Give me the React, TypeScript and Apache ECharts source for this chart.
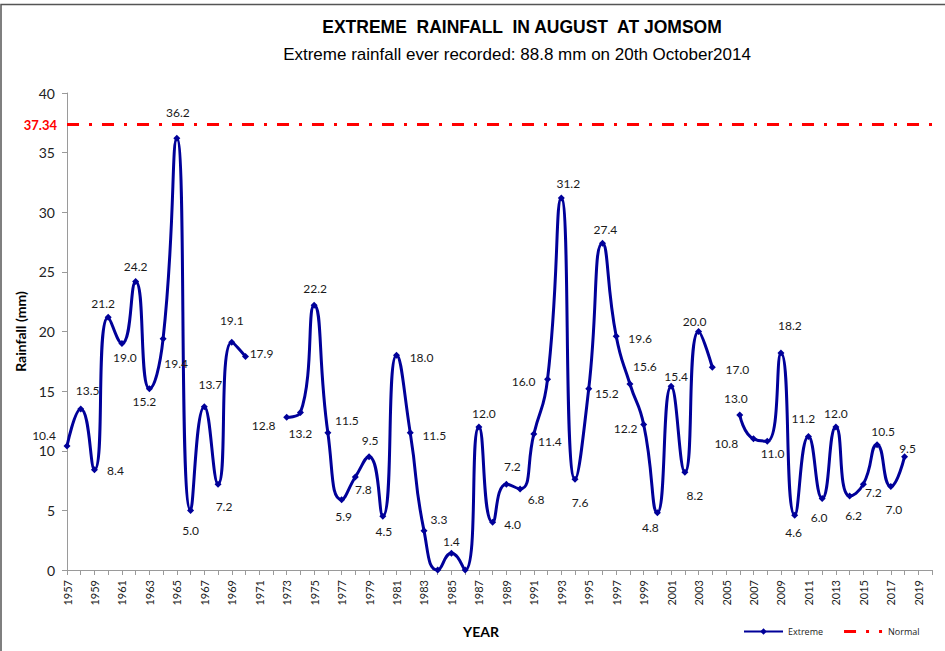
import React, { useEffect, useRef } from 'react';
import * as echarts from 'echarts';

const YEARS = [
  '1957', '1958', '1959', '1960', '1961', '1962', '1963', '1964', '1965', '1966',
  '1967', '1968', '1969', '1970', '1971', '1972', '1973', '1974', '1975', '1976',
  '1977', '1978', '1979', '1980', '1981', '1982', '1983', '1984', '1985', '1986',
  '1987', '1988', '1989', '1990', '1991', '1992', '1993', '1994', '1995', '1996',
  '1997', '1998', '1999', '2000', '2001', '2002', '2003', '2004', '2005', '2006',
  '2007', '2008', '2009', '2010', '2011', '2012', '2013', '2014', '2015', '2016',
  '2017', '2018', '2019', '2020',
];

const EXTREME: (number | null)[] = [
  10.4, 13.5, 8.4, 21.2, 19.0, 24.2, 15.2, 19.4, 36.2, 5.0,
  13.7, 7.2, 19.1, 17.9, null, null, 12.8, 13.2, 22.2, 11.5,
  5.9, 7.8, 9.5, 4.5, 18.0, 11.5, 3.3, 0, 1.4, 0,
  12.0, 4.0, 7.2, 6.8, 11.4, 16.0, 31.2, 7.6, 15.2, 27.4,
  19.6, 15.6, 12.2, 4.8, 15.4, 8.2, 20.0, 17.0, null, 13.0,
  11.0, 10.8, 18.2, 4.6, 11.2, 6.0, 12.0, 6.2, 7.2, 10.5,
  7.0, 9.5, null, null,
];

const NORMAL = 37.34;

// label placement (dx, dy from the marker), layout only
const LABEL_OFFSETS: ([number, number] | null)[] = [
  [-23, -10], [7, -19], [21, 1], [-5, -14], [3, 14], [0, -15], [-5, 13], [13, 25], [1, -26], [0, 20],
  [6, -22], [6, 22], [0, -22], [16, -3], null, null, [-23, 8], [0, 21], [1, -17], [19, -12],
  [2, 17], [8, 13], [1, -16], [1, 15], [25, 2], [24, 3], [15, -11], null, [0, -12], null,
  [5, -13], [20, 2], [6, -18], [16, 11], [16, 7], [-24, 2], [7, -14], [5, 23], [18, 5], [3, -14],
  [24, 2], [15, -17], [-18, 4], [-7, 15], [5, -10], [10, 23], [-4, -10], [25, 2], null, [-4, -16],
  [19, 15], [-41, 2], [9, -27], [-1, 17], [-5, -18], [-3, 19], [0, -13], [4, 19], [10, 8], [6, -13],
  [3, 23], [3, -8], null, null,
];

const NORMAL_ICON =
  'path://M0,0h0.01v0.01h-0.01zM0,2.5h12v3h-12zM22,2.5h3v3h-3zM35,2.5h3v3h-3zM38.99,7.99h0.01v0.01h-0.01z';

export default function App() {
  const ref = useRef<HTMLDivElement>(null);

  useEffect(() => {
    const chart = echarts.init(ref.current!, null, { renderer: 'svg' });
    const data = EXTREME.map((v, i) =>
      v === null
        ? null
        : {
            value: v,
            label: { show: v !== 0, offset: LABEL_OFFSETS[i] ?? [0, 0] },
          }
    );
    chart.setOption({
      animation: false,
      backgroundColor: '#ffffff',
      grid: { left: 67, right: 13, top: 93, bottom: 81, containLabel: false },
      graphic: [
        {
          type: 'rect',
          silent: true,
          z: -10,
          shape: { x: 1, y: 4.5, width: 1000, height: 700 },
          style: { fill: 'none', stroke: '#555555', lineWidth: 1.5 },
        },
        {
          type: 'text',
          x: 522,
          y: 27,
          style: {
            text: 'EXTREME  RAINFALL  IN AUGUST  AT JOMSOM',
            font: 'bold 17.5px "Liberation Sans", Arial, sans-serif',
            fill: '#000',
            textAlign: 'center',
            textVerticalAlign: 'middle',
          },
        },
        {
          type: 'text',
          x: 517,
          y: 54,
          style: {
            text: 'Extreme rainfall ever recorded: 88.8 mm on 20th October2014',
            font: '17px "Liberation Sans", Arial, sans-serif',
            fill: '#000',
            textAlign: 'center',
            textVerticalAlign: 'middle',
          },
        },
        {
          type: 'text',
          x: 481,
          y: 631,
          style: {
            text: 'YEAR',
            font: 'bold 14px Lato, sans-serif',
            fill: '#000',
            textAlign: 'center',
            textVerticalAlign: 'middle',
          },
        },
      ],
      legend: {
        left: 743,
        top: 627,
        padding: 0,
        itemWidth: 39,
        itemHeight: 8,
        itemGap: 21,
        textStyle: { fontSize: 9, fontFamily: '"Open Sans", sans-serif', color: '#222' },
        data: [
          { name: 'Extreme' },
          { name: 'Normal', icon: NORMAL_ICON, itemStyle: { color: '#ff0000', borderWidth: 0 } },
        ],
      },
      xAxis: {
        type: 'category',
        data: YEARS,
        boundaryGap: false,
        axisLine: { lineStyle: { color: '#9a9a9a', width: 1 } },
        axisTick: { show: true, interval: 0, length: 5, lineStyle: { color: '#9a9a9a' } },
        axisLabel: {
          interval: 1,
          rotate: 90,
          fontSize: 11,
          fontFamily: 'Lato, sans-serif',
          color: '#222',
          margin: 10,
        },
        splitLine: { show: false },
      },
      yAxis: {
        type: 'value',
        min: 0,
        max: 40,
        interval: 5,
        name: 'Rainfall (mm)',
        nameLocation: 'middle',
        nameGap: 38,
        nameTextStyle: { fontWeight: 'bold', fontSize: 14, fontFamily: 'Lato, sans-serif', color: '#000' },
        axisLine: { show: true, lineStyle: { color: '#9a9a9a', width: 1 } },
        axisTick: { show: true, length: 5, lineStyle: { color: '#9a9a9a' } },
        axisLabel: { fontSize: 14, fontFamily: 'Lato, sans-serif', color: '#222', margin: 12 },
        splitLine: { show: false },
      },
      series: [
        {
          name: 'Extreme',
          type: 'line',
          data,
          smooth: 0.55,
          connectNulls: false,
          symbol: 'diamond',
          symbolSize: 7,
          lineStyle: { color: '#000099', width: 3 },
          itemStyle: { color: '#000099' },
          label: {
            show: true,
            position: 'inside',
            fontSize: 12,
            fontFamily: 'Lato, sans-serif',
            color: '#1a1a1a',
            formatter: (p: any) => Number(p.value).toFixed(1),
          },
          z: 3,
        },
        {
          name: 'Normal',
          type: 'line',
          data: [],
          symbol: 'none',
          lineStyle: { color: '#ff0000', width: 3, type: [12, 10, 3, 10] },
          itemStyle: { color: '#ff0000' },
          markLine: {
            silent: true,
            symbol: ['none', 'none'],
            lineStyle: { color: '#ff0000', width: 3, type: [12, 10, 3, 10] },
            label: {
              show: true,
              position: 'start',
              distance: 10,
              formatter: NORMAL.toFixed(2),
              color: '#ff0000',
              fontWeight: 'bold',
              fontSize: 13,
              fontFamily: 'Lato, sans-serif',
            },
            data: [{ yAxis: NORMAL }],
          },
          z: 2,
        },
      ],
    });
    return () => chart.dispose();
  }, []);

  return (
    <div
      ref={ref}
      style={{ position: 'absolute', left: 0, top: 0, width: 945, height: 651, background: '#fff' }}
    />
  );
}
